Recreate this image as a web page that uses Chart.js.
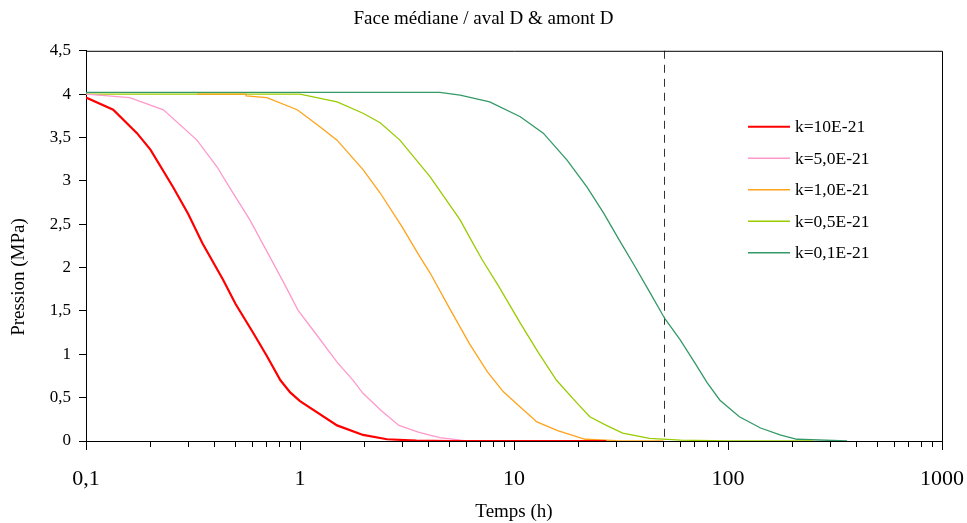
<!DOCTYPE html>
<html>
<head>
<meta charset="utf-8">
<title>Face médiane / aval D & amont D</title>
<script src="https://cdn.jsdelivr.net/npm/chart.js@4.4.1/dist/chart.umd.min.js"></script>
<style>
    body { margin: 0; background: #fff; }
    canvas { display: block; }
</style>
</head>
<body>
<canvas id="chart" width="967" height="523"></canvas>
<script>
// === Données ===
const seriesNames = ["k=10E-21", "k=5,0E-21", "k=1,0E-21", "k=0,5E-21", "k=0,1E-21"];
const seriesColors = ["#ff0000", "#ff99cc", "#ffa31a", "#99cc00", "#339966"];

const tempsK10 = [0.1, 0.134, 0.173, 0.2, 0.255, 0.3, 0.35, 0.437, 0.5, 0.6, 0.7, 0.81, 0.9, 1.0, 1.49, 1.97, 2.55, 3.5, 5, 27];
const pressK10 = [3.96, 3.82, 3.55, 3.36, 2.93, 2.62, 2.28, 1.86, 1.58, 1.26, 0.98, 0.70, 0.56, 0.46, 0.18, 0.07, 0.02, 0.005, 0, 0];

const tempsK5 = [0.1, 0.16, 0.23, 0.33, 0.41, 0.47, 0.583, 0.724, 0.85, 0.978, 1.15, 1.49, 1.77, 1.97, 2.4, 2.9, 3.6, 4.5, 6, 27];
const pressK5 = [4.0, 3.96, 3.82, 3.47, 3.16, 2.92, 2.55, 2.12, 1.8, 1.51, 1.28, 0.91, 0.70, 0.55, 0.35, 0.18, 0.1, 0.04, 0, 0];

const tempsK1 = [0.33, 0.56, 0.56, 0.7, 0.97, 1.2, 1.49, 1.97, 2.37, 3.0, 3.64, 4.05, 5.0, 6.2, 7.5, 8.9, 10.5, 12.8, 16, 21.5, 30, 50];
const pressK1 = [4.0, 4.0, 3.98, 3.96, 3.82, 3.65, 3.47, 3.13, 2.86, 2.47, 2.12, 1.94, 1.53, 1.12, 0.80, 0.57, 0.41, 0.22, 0.12, 0.02, 0.005, 0];

const tempsK05 = [0.1, 1.0, 1.49, 1.97, 2.37, 2.93, 4.05, 5.6, 6.3, 7.1, 8.5, 10.7, 13, 15.8, 19, 22.6, 27, 32.2, 43, 60, 100, 250];
const pressK05 = [4.0, 4.0, 3.91, 3.78, 3.67, 3.47, 3.05, 2.55, 2.32, 2.09, 1.78, 1.36, 1.02, 0.70, 0.48, 0.28, 0.18, 0.09, 0.03, 0.01, 0, 0];

const tempsK01 = [0.1, 4.5, 5.6, 7.7, 10.7, 13.7, 17.7, 21.9, 26.2, 31, 36, 43, 50.7, 59.7, 70, 80, 91.7, 113, 142, 175, 210, 360];
const pressK01 = [4.02, 4.02, 3.99, 3.91, 3.74, 3.55, 3.24, 2.93, 2.63, 2.32, 2.05, 1.72, 1.41, 1.17, 0.90, 0.67, 0.47, 0.28, 0.15, 0.07, 0.02, 0];

const seriesTemps = [tempsK10, tempsK5, tempsK1, tempsK05, tempsK01];
const seriesPress = [pressK10, pressK5, pressK1, pressK05, pressK01];

const xTickDecades = [0.1, 1, 10, 100, 1000];
const xTickLabels = ["0,1", "1", "10", "100", "1000"];
const yTicks = [0, 0.5, 1, 1.5, 2, 2.5, 3, 3.5, 4, 4.5];
const markerTemps = 50; // ligne verticale pointillée

const FONT = "'Liberation Serif', 'Times New Roman', serif";

// === Cadre, ligne pointillée, graduations majeures, titre Y et légende ===
const decorPlugin = {
    id: "decor",
    beforeDatasetsDraw(chart) {
        const { ctx, chartArea: a, scales } = chart;
        ctx.save();
        // ligne verticale pointillée
        const xm = Math.round(scales.x.getPixelForValue(markerTemps)) + 0.5;
        ctx.strokeStyle = "#333";
        ctx.lineWidth = 1;
        ctx.setLineDash([8, 6]);
        ctx.beginPath();
        ctx.moveTo(xm, a.top);
        ctx.lineTo(xm, a.bottom);
        ctx.stroke();
        ctx.restore();
    },
    afterDraw(chart) {
        const { ctx, chartArea: a, scales } = chart;
        ctx.save();
        // cadre haut et droite
        ctx.strokeStyle = "#000";
        ctx.lineWidth = 1;
        ctx.beginPath();
        ctx.moveTo(a.left, a.top + 0.5);
        ctx.lineTo(a.right + 0.5, a.top + 0.5);
        ctx.lineTo(a.right + 0.5, a.bottom);
        ctx.stroke();

        // graduations des décades un peu plus longues
        ctx.beginPath();
        xTickDecades.forEach(d => {
            const px = Math.round(scales.x.getPixelForValue(d)) + 0.5;
            ctx.moveTo(px, a.bottom);
            ctx.lineTo(px, a.bottom + 9);
        });
        ctx.stroke();

        // titre de l'axe Y
        ctx.fillStyle = "#000";
        ctx.font = "19px " + FONT;
        ctx.textAlign = "center";
        ctx.textBaseline = "middle";
        ctx.translate(19, 277);
        ctx.rotate(-Math.PI / 2);
        ctx.fillText("Pression (MPa)", 0, 0);
        ctx.setTransform(1, 0, 0, 1, 0, 0);

        // légende
        ctx.font = "17.5px " + FONT;
        ctx.textAlign = "left";
        const lx = a.right - 194;
        chart.data.datasets.forEach((ds, i) => {
            const y = a.top + 76 + i * 31.5;
            ctx.strokeStyle = ds.borderColor;
            ctx.lineWidth = i === 0 ? 2 : 1.5;
            ctx.beginPath();
            ctx.moveTo(lx, y);
            ctx.lineTo(lx + 42, y);
            ctx.stroke();
            ctx.fillStyle = "#000";
            ctx.fillText(ds.label, lx + 47, y + 1);
        });
        ctx.restore();
    }
};

const datasets = seriesNames.map((name, i) => ({
    label: name,
    data: seriesTemps[i].map((t, j) => ({ x: t, y: seriesPress[i][j] })),
    borderColor: seriesColors[i],
    backgroundColor: seriesColors[i],
    borderWidth: i === 0 ? 2.2 : 1.3,
    pointRadius: 0,
    tension: 0,
    fill: false
}));

new Chart(document.getElementById("chart"), {
    type: "line",
    data: { datasets },
    options: {
        responsive: false,
        animation: false,
        devicePixelRatio: 1,
        layout: { padding: 0 },
        plugins: {
            legend: { display: false },
            tooltip: { enabled: false },
            title: {
                display: true,
                text: "Face médiane / aval D & amont D",
                color: "#000",
                font: { family: FONT, size: 19, weight: "normal" },
                padding: { top: 8, bottom: 20 }
            }
        },
        scales: {
            x: {
                type: "logarithmic",
                min: 0.1,
                max: 1000,
                afterBuildTicks: (scale) => {
                    const ticks = [];
                    xTickDecades.forEach((d, k) => {
                        for (let m = 1; m <= 9; m++) {
                            if (k === xTickDecades.length - 1 && m > 1) break;
                            ticks.push({ value: d * m });
                        }
                    });
                    scale.ticks = ticks;
                },
                afterFit: (scale) => {
                    scale.height = 82;
                    scale.paddingLeft = 0;
                    scale.paddingRight = 25;
                },
                ticks: {
                    autoSkip: false,
                    maxRotation: 0,
                    padding: 19,
                    color: "#000",
                    font: { family: FONT, size: 22 },
                    callback: (value) => {
                        const idx = xTickDecades.findIndex(d => Math.abs(d - value) < d * 1e-6);
                        return idx >= 0 ? xTickLabels[idx] : "";
                    }
                },
                grid: {
                    drawOnChartArea: false,
                    drawTicks: true,
                    tickLength: 6,
                    tickColor: "#000"
                },
                border: { display: true, color: "#000", width: 1 },
                title: {
                    display: true,
                    text: "Temps (h)",
                    color: "#000",
                    font: { family: FONT, size: 19 },
                    padding: { top: 0, bottom: 0 }
                }
            },
            y: {
                min: 0,
                max: 4.5,
                afterBuildTicks: (scale) => {
                    scale.ticks = yTicks.map(v => ({ value: v }));
                },
                afterFit: (scale) => {
                    scale.width = 86;
                    scale.paddingTop = 0;
                    scale.paddingBottom = 0;
                },
                ticks: {
                    padding: 8,
                    color: "#000",
                    font: { family: FONT, size: 17 },
                    callback: (value) => String(value).replace(".", ",")
                },
                grid: {
                    drawOnChartArea: false,
                    drawTicks: true,
                    tickLength: 7,
                    tickColor: "#000"
                },
                border: { display: true, color: "#000", width: 1 }
            }
        }
    },
    plugins: [decorPlugin]
});
</script>
</body>
</html>
